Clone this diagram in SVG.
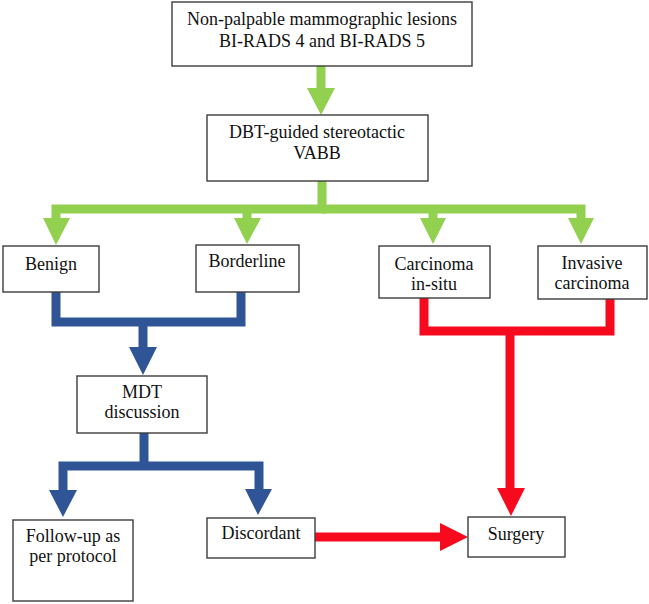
<svg xmlns="http://www.w3.org/2000/svg" width="649" height="604" viewBox="0 0 649 604">
<style>
.box{fill:#fff;stroke:#3c3c3c;stroke-width:1.4}
.t{font-family:"Liberation Serif","Times New Roman",serif;font-size:18px;fill:#111;text-anchor:middle}
.g{fill:none;stroke:#92D050;stroke-width:9}
.gh{fill:#92D050}
.b{fill:none;stroke:#2F5597;stroke-width:9}
.bh{fill:#2F5597}
.r{fill:none;stroke:#F80A1E;stroke-width:9}
.rh{fill:#F80A1E}
</style>
<rect width="649" height="604" fill="#fff"/>
<g id="connectors">
  <line class="g" x1="321" y1="66" x2="321" y2="89"/>
  <polygon class="gh" points="307,88 335,88 321,115"/>
  <path class="g" d="M322,181 V209 H56 V219"/>
  <path class="g" d="M247,209 V219"/>
  <path class="g" d="M322,209 H581 V219"/>
  <path class="g" d="M433,209 V219"/>
  <polygon class="gh" points="43,218 70,218 56,245"/>
  <polygon class="gh" points="234,218 261,218 247,244"/>
  <polygon class="gh" points="420,218 446,218 433,244"/>
  <polygon class="gh" points="568,218 594,218 581,244"/>
  <path class="b" d="M56,292 V322 H241 V292"/>
  <path class="b" d="M143,322 V348"/>
  <polygon class="bh" points="129,347 157,347 143,375"/>
  <path class="b" d="M144,433 V466"/>
  <path class="b" d="M63,491 V466 H259 V491"/>
  <polygon class="bh" points="49,490 77,490 63,517"/>
  <polygon class="bh" points="245,489 272,489 258,515"/>
  <path class="r" d="M424,298 V331 H610 V298"/>
  <path class="r" d="M510,331 V489"/>
  <polygon class="rh" points="497,488 525,488 511,516"/>
  <path class="r" d="M315,537 H441"/>
  <polygon class="rh" points="440,523 440,551 468,537"/>
</g>
<g id="n-lesions">
  <rect class="box" x="172" y="2" width="300" height="64"/>
  <text class="t" x="322" y="25">Non-palpable mammographic lesions</text>
  <text class="t" x="322" y="47">BI-RADS 4 and BI-RADS 5</text>
</g>
<g id="n-vabb">
  <rect class="box" x="207" y="115" width="221" height="66"/>
  <text class="t" x="317" y="138">DBT-guided stereotactic</text>
  <text class="t" x="317" y="159">VABB</text>
</g>
<g id="n-benign">
  <rect class="box" x="3" y="246" width="96" height="46"/>
  <text class="t" x="51" y="270">Benign</text>
</g>
<g id="n-borderline">
  <rect class="box" x="196" y="245" width="103" height="47"/>
  <text class="t" x="247" y="267">Borderline</text>
</g>
<g id="n-cis">
  <rect class="box" x="379" y="246" width="111" height="52"/>
  <text class="t" x="434" y="270">Carcinoma</text>
  <text class="t" x="434" y="290">in-situ</text>
</g>
<g id="n-invasive">
  <rect class="box" x="538" y="246" width="109" height="53"/>
  <text class="t" x="592" y="269">Invasive</text>
  <text class="t" x="592" y="289">carcinoma</text>
</g>
<g id="n-mdt">
  <rect class="box" x="77" y="376" width="130" height="57"/>
  <text class="t" x="142" y="398">MDT</text>
  <text class="t" x="142" y="418">discussion</text>
</g>
<g id="n-followup">
  <rect class="box" x="13" y="520" width="120" height="81"/>
  <text class="t" x="73" y="542">Follow-up as</text>
  <text class="t" x="73" y="562">per protocol</text>
</g>
<g id="n-discordant">
  <rect class="box" x="207" y="518" width="108" height="40"/>
  <text class="t" x="261" y="539">Discordant</text>
</g>
<g id="n-surgery">
  <rect class="box" x="468" y="517" width="97" height="40"/>
  <text class="t" x="516" y="540">Surgery</text>
</g>
</svg>
